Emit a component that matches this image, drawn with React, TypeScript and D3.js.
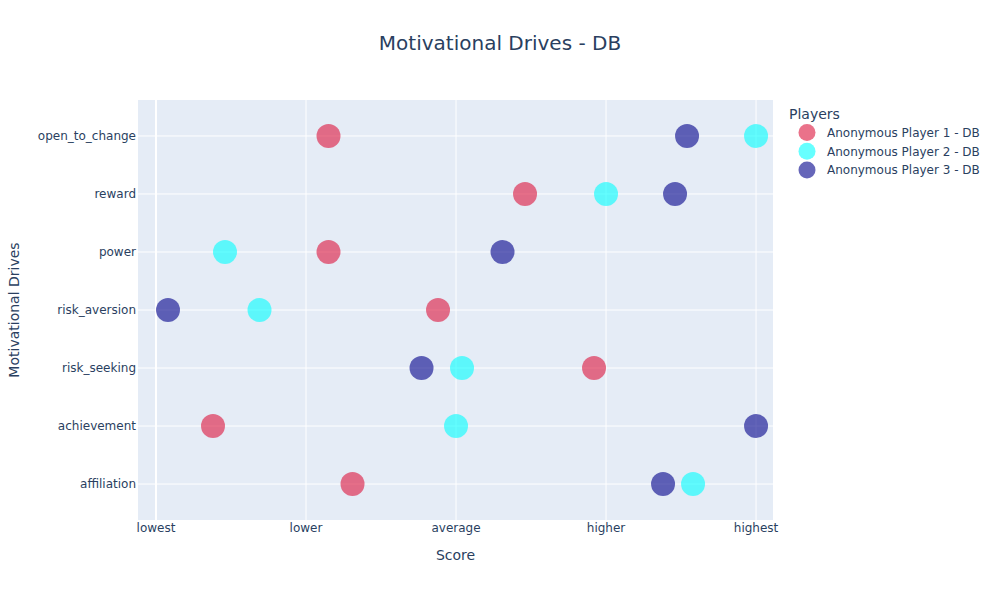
import React from "react";
import * as d3 from "d3";

const categories = ["affiliation", "achievement", "risk_seeking", "risk_aversion", "power", "reward", "open_to_change"];
const xTickLabels = ["lowest", "lower", "average", "higher", "highest"];
const playerNames = ["Anonymous Player 1 - DB", "Anonymous Player 2 - DB", "Anonymous Player 3 - DB"];
const playerColors = ["crimson", "cyan", "darkblue"];
// values per category (same order as categories)
const player1 = [1.31, 0.38, 2.92, 1.88, 1.15, 2.46, 1.15];
const player2 = [3.58, 2.0, 2.04, 0.69, 0.46, 3.0, 4.0];
const player3 = [3.38, 4.0, 1.77, 0.08, 2.31, 3.46, 3.54];
const seriesValues = [player1, player2, player3];

const W = 1000, H = 600;
const L = 138, R = 773, T = 100, B = 520;
const FONT = "'DejaVu Sans', verdana, arial, sans-serif";
const TXT = "#2a3f5f";

export default function App() {
  const x = d3.scaleLinear().domain([-0.12, 4.113]).range([L, R]);
  const y = d3.scaleLinear().domain([-0.62, categories.length - 1 + 0.62]).range([B, T]);
  const xTicks = xTickLabels.map((_, i) => i);

  return (
    <svg width={W} height={H} style={{ display: "block", position: "absolute", left: 0, top: 0, background: "#fff" }} fontFamily={FONT}>
      <rect x={0} y={0} width={W} height={H} fill="#fff" />
      <rect x={L} y={T} width={R - L} height={B - T} fill="#E5ECF6" />
      {xTicks.map((t) => (
        <line key={"gx" + t} x1={x(t)} x2={x(t)} y1={T} y2={B} stroke="#fff" strokeWidth={t === 0 ? 2 : 1} />
      ))}
      {categories.map((c, i) => (
        <line key={"gy" + c} x1={L} x2={R} y1={y(i)} y2={y(i)} stroke="#fff" strokeWidth={1} />
      ))}
      {xTicks.map((t) => (
        <text key={"tx" + t} x={x(t)} y={B + 12} textAnchor="middle" fontSize={12} fill={TXT}>{xTickLabels[t]}</text>
      ))}
      {categories.map((c, i) => (
        <text key={"ty" + c} x={L - 2} y={y(i)} dy="0.35em" textAnchor="end" fontSize={12} fill={TXT}>{c}</text>
      ))}
      {seriesValues.map((vals, s) => (
        <g key={"s" + s}>
          {vals.map((v, i) => (
            <circle key={i} cx={x(v)} cy={y(i)} r={12} fill={playerColors[s]} fillOpacity={0.6} />
          ))}
        </g>
      ))}
      <text x={500} y={50} textAnchor="middle" fontSize={20} fill={TXT}>Motivational Drives - DB</text>
      <text x={(L + R) / 2} y={560} textAnchor="middle" fontSize={14} fill={TXT}>Score</text>
      <text transform={`translate(19,${(T + B) / 2}) rotate(-90)`} textAnchor="middle" fontSize={14} fill={TXT}>Motivational Drives</text>
      <text x={789} y={119} fontSize={14} fill={TXT}>Players</text>
      {playerNames.map((n, i) => (
        <g key={"lg" + i} transform={`translate(0,${132.5 + i * 18.8})`}>
          <circle cx={807} cy={0} r={8.5} fill={playerColors[i]} fillOpacity={0.6} />
          <text x={827} y={0} dy="0.35em" fontSize={12} fill={TXT}>{n}</text>
        </g>
      ))}
    </svg>
  );
}
